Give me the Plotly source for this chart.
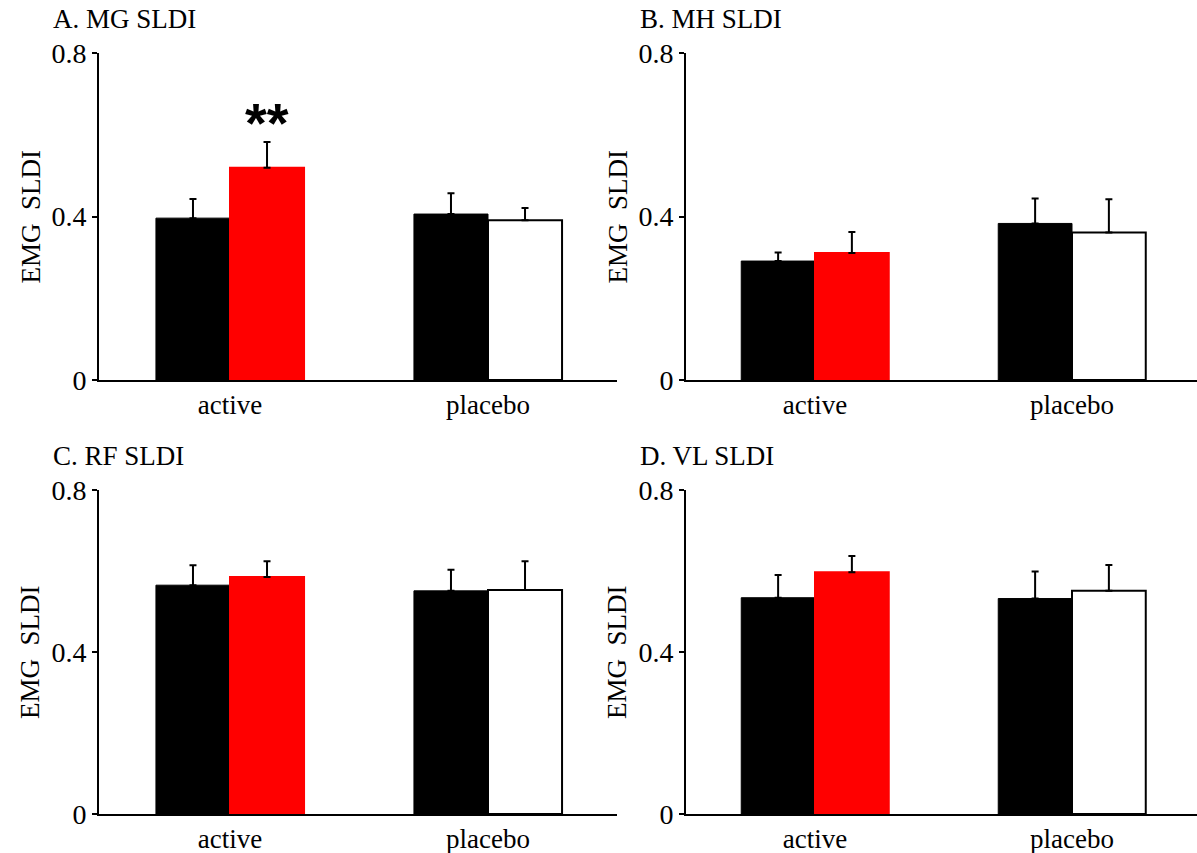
import plotly.graph_objects as go

categories = ["active", "placebo"]
panel_titles = ["A. MG SLDI", "B. MH SLDI", "C. RF SLDI", "D. VL SLDI"]
y_title = "EMG  SLDI"
y_ticks = [0, 0.4, 0.8]
y_tick_labels = ["0", "0.4", "0.8"]

# first bar (black) in each group, and its upward SE; second bar likewise
mg_pre = [0.396, 0.406]
mg_pre_err = [0.047, 0.051]
mg_post = [0.519, 0.391]
mg_post_err = [0.063, 0.030]

mh_pre = [0.291, 0.383]
mh_pre_err = [0.021, 0.061]
mh_post = [0.311, 0.361]
mh_post_err = [0.051, 0.081]

rf_pre = [0.565, 0.551]
rf_pre_err = [0.049, 0.052]
rf_post = [0.585, 0.553]
rf_post_err = [0.039, 0.071]

vl_pre = [0.534, 0.532]
vl_pre_err = [0.056, 0.067]
vl_post = [0.597, 0.551]
vl_post_err = [0.040, 0.064]

post_colors = ["#ff0000", "#ffffff"]
post_line_colors = ["#ff0000", "#000000"]

panels = [
    (mg_pre, mg_pre_err, mg_post, mg_post_err),
    (mh_pre, mh_pre_err, mh_post, mh_post_err),
    (rf_pre, rf_pre_err, rf_post, rf_post_err),
    (vl_pre, vl_pre_err, vl_post, vl_post_err),
]

W, H = 1197, 853
FONT = "Liberation Serif, Times New Roman, serif"

# pixel layout: (axis x, right end x, top y, bottom y, active centre px, placebo centre px)
boxes = [
    (99, 617, 53, 380, 230, 488),
    (686, 1197, 53, 380, 815, 1072),
    (99, 617, 490, 814, 230, 488),
    (686, 1197, 490, 814, 815, 1072),
]

fig = go.Figure()
layout = dict(
    template="none",
    width=W, height=H, autosize=False,
    margin=dict(l=0, r=0, t=0, b=0, pad=0),
    paper_bgcolor="white", plot_bgcolor="white",
    showlegend=False,
    barmode="group", bargap=0.426, bargroupgap=0.0,
    font=dict(family=FONT, color="black"),
)
annotations = []
xpos = list(range(len(categories)))

for i, ((pre, pre_err, post, post_err), (x0, x1, y0, y1, c0, c1)) in enumerate(zip(panels, boxes)):
    n = "" if i == 0 else str(i + 1)
    xa, ya = "x" + n, "y" + n
    unit = c1 - c0
    fig.add_trace(go.Bar(
        x=xpos, y=pre, xaxis=xa, yaxis=ya,
        marker=dict(color="#000000", line=dict(color="#000000", width=1)),
        error_y=dict(type="data", array=pre_err, arrayminus=[0] * len(pre),
                     symmetric=False, color="black", thickness=2, width=3.5),
    ))
    fig.add_trace(go.Bar(
        x=xpos, y=post, xaxis=xa, yaxis=ya,
        marker=dict(color=post_colors, line=dict(color=post_line_colors, width=2)),
        error_y=dict(type="data", array=post_err, arrayminus=[0] * len(post),
                     symmetric=False, color="black", thickness=2, width=3.5),
    ))
    layout["xaxis" + n] = dict(
        domain=[x0 / W, x1 / W], anchor=ya, automargin=False,
        range=[-(c0 - x0) / unit, (x1 - c0) / unit],
        tickvals=xpos, ticktext=categories,
        showline=True, linecolor="black", linewidth=2,
        ticks="", showgrid=False, zeroline=False,
        tickfont=dict(family=FONT, size=27, color="black"),
    )
    layout["yaxis" + n] = dict(
        domain=[1 - y1 / H, 1 - y0 / H], anchor=xa, automargin=False,
        range=[0, 0.8],
        tickvals=y_ticks, ticktext=y_tick_labels,
        showline=True, linecolor="black", linewidth=2,
        ticks="outside", ticklen=5, tickwidth=2, tickcolor="black",
        showgrid=False, zeroline=False,
        tickfont=dict(family=FONT, size=28, color="black"),
    )
    annotations.append(dict(
        text=panel_titles[i], xref="paper", yref="paper",
        x=(x0 - 48) / W, y=1 - (y0 - 34) / H,
        xanchor="left", yanchor="middle", showarrow=False,
        font=dict(family=FONT, size=27, color="black"),
    ))
    annotations.append(dict(
        text=y_title, xref="paper", yref="paper",
        x=(x0 - 69) / W, y=1 - ((y0 + y1) / 2) / H,
        xanchor="center", yanchor="middle", textangle=-90, showarrow=False,
        font=dict(family=FONT, size=27, color="black"),
    ))

annotations.append(dict(
    text="<b>**</b>", xref="x", yref="y", x=0.144, y=mg_post[0] + mg_post_err[0],
    xanchor="center", yanchor="bottom", yshift=-14, showarrow=False,
    font=dict(family="Liberation Sans, Arial, sans-serif", size=56, color="black"),
))
layout["annotations"] = annotations
fig.update_layout(**layout)
fig.write_html("out.html")
